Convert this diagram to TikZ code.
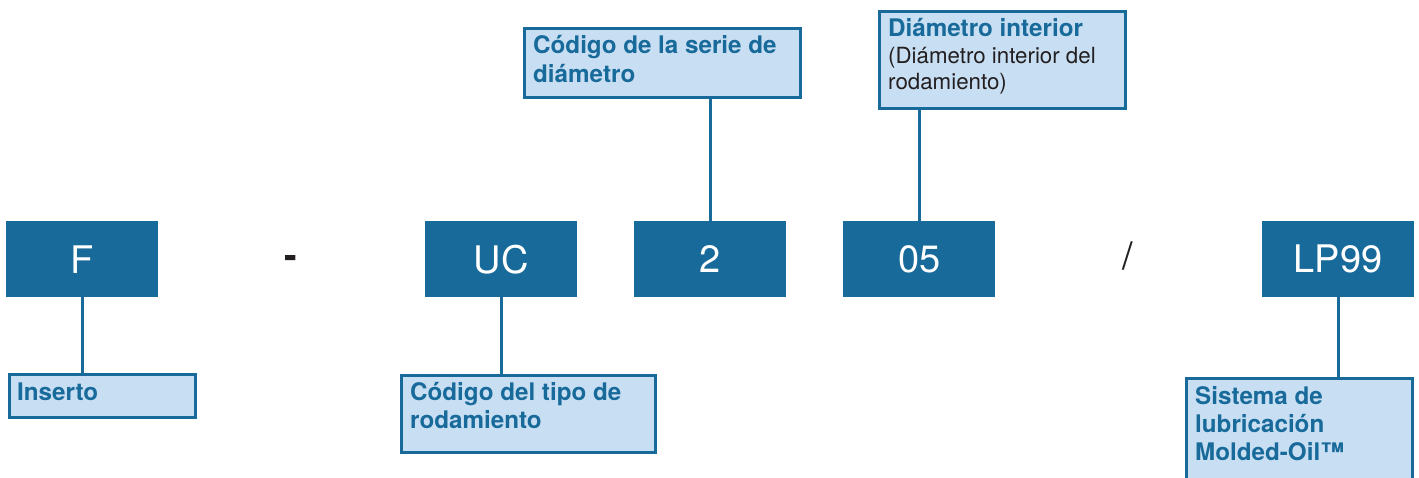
\documentclass[tikz,border=0pt]{standalone}
\usepackage{fontspec}
\setmainfont{TeX Gyre Heros}
\definecolor{dblue}{RGB}{23,106,154}
\definecolor{lblue}{RGB}{200,222,242}
\definecolor{ink}{RGB}{35,31,32}
\tikzset{
 codebox/.style={fill=dblue, draw=none, minimum width=152pt, minimum height=76pt, inner sep=0pt, anchor=north west, text=white, font=\fontsize{38}{40}\selectfont},
 lbox/.style={fill=lblue, draw=dblue, line width=2.5pt, inner sep=0pt, anchor=north west},
 ltext/.style={anchor=base west, inner sep=0pt, text=dblue, font=\bfseries\fontsize{24.2}{29}\selectfont},
 rtext/.style={anchor=base west, inner sep=0pt, text=ink, font=\fontsize{22.3}{26}\selectfont},
 sep/.style={inner sep=0pt, text=ink, font=\fontsize{38}{40}\selectfont},
 conn/.style={draw=dblue, line width=2.6pt},
}
\begin{document}
\begin{tikzpicture}[x=1pt,y=-1pt]
\path[use as bounding box] (0,0) rectangle (1419,477);
\clip (0,0) rectangle (1419,477);
% code boxes
\node[codebox] (f) at (6,221) {F};
\node[codebox] (uc) at (425,221) {UC};
\node[codebox] (two) at (634,221) {2};
\node[codebox] (zf) at (843,221) {05};
\node[codebox] (lp) at (1262,221) {LP99};
\node[sep] (dash) at (291,262) {\textbf{-}};
\node[sep] (slash) at (1128,256) {/};
% label boxes
\node[lbox, minimum width=186pt, minimum height=43pt] (ins) at (8,373) {};
\node[lbox, minimum width=254pt, minimum height=77pt] (tipo) at (400,374) {};
\node[lbox, minimum width=276pt, minimum height=69pt] (serie) at (523,27) {};
\node[lbox, minimum width=246pt, minimum height=97pt] (dint) at (878,10) {};
\node[lbox, minimum width=226pt, minimum height=115pt] (sist) at (1185,377) {};
% label texts
\node[ltext] (t1) at (17,400) {Inserto};
\node[ltext] (t2a) at (410,400) {Código del tipo de};
\node[ltext] (t2b) at (410,428) {rodamiento};
\node[ltext] (t3a) at (533,53) {Código de la serie de};
\node[ltext] (t3b) at (533,82) {diámetro};
\node[ltext] (t4a) at (888,36) {Diámetro interior};
\node[rtext] (t4b) at (888,63) {(Diámetro interior del};
\node[rtext] (t4c) at (888,89) {rodamiento)};
\node[ltext] (t5a) at (1195,404) {Sistema de};
\node[ltext] (t5b) at (1195,432) {lubricación};
\node[ltext] (t5c) at (1195,460) {Molded-Oil™};
% connectors
\draw[conn] (f.south) -- (f.south |- ins.north);
\draw[conn] (uc.south) -- (uc.south |- tipo.north);
\draw[conn] (two.north) -- (two.north |- serie.south);
\draw[conn] (zf.north) -- (zf.north |- dint.south);
\draw[conn] (lp.south) -- (lp.south |- sist.north);
\end{tikzpicture}
\end{document}
